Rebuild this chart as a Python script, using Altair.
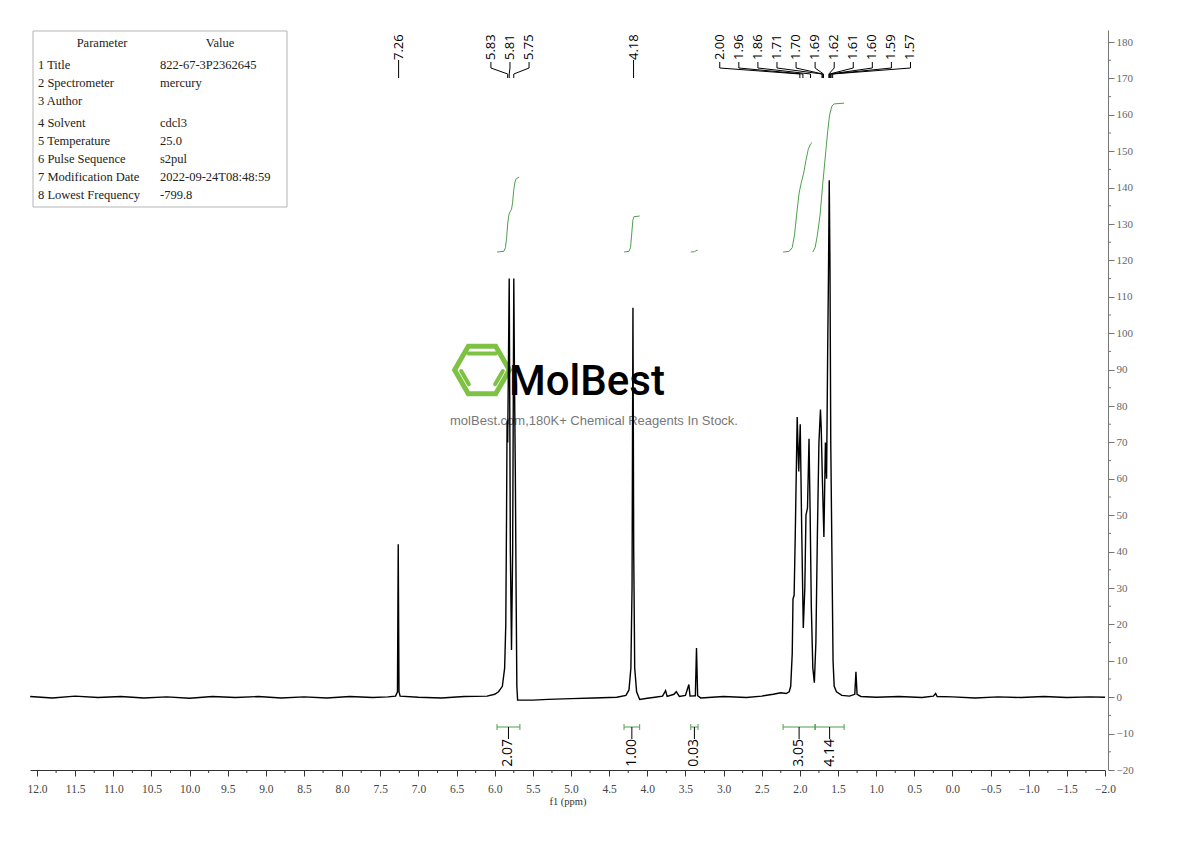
import altair as alt
import pandas as pd
import numpy as np

# ---------------- data ----------------
# spectrum trace vertices (ppm, intensity)
SPEC_PPM = [12.09, 11.80, 11.50, 11.20, 10.90, 10.60, 10.30, 10.00, 9.70, 9.40, 9.10, 8.80, 8.50, 8.20,
            7.90, 7.60, 7.40, 7.30, 7.275, 7.265, 7.255, 7.24, 7.00, 6.70, 6.40, 6.10, 6.00, 5.95, 5.90,
            5.87, 5.855, 5.845, 5.838, 5.83, 5.81, 5.795, 5.78, 5.765, 5.75, 5.74, 5.73, 5.72, 5.71, 5.70,
            5.50, 5.30, 5.00, 4.70, 4.40, 4.28, 4.24, 4.215, 4.20, 4.188, 4.178, 4.165, 4.14, 4.10, 4.00,
            3.90, 3.80, 3.76, 3.74, 3.65, 3.62, 3.58, 3.50, 3.455, 3.44, 3.37, 3.355, 3.34, 3.30, 3.00,
            2.70, 2.50, 2.35, 2.25, 2.18, 2.14, 2.12, 2.10, 2.09, 2.075, 2.06, 2.035, 2.015, 1.995, 1.975,
            1.955, 1.935, 1.92, 1.90, 1.88, 1.865, 1.85, 1.83, 1.81, 1.79, 1.77, 1.75, 1.73, 1.72, 1.705,
            1.685, 1.665, 1.65, 1.635, 1.625, 1.615, 1.605, 1.595, 1.58, 1.565, 1.55, 1.52, 1.45, 1.35,
            1.28, 1.265, 1.25, 1.20, 1.00, 0.70, 0.40, 0.25, 0.22, 0.20, 0.00, -0.30, -0.60, -0.90, -1.20,
            -1.50, -1.80, -2.00]
SPEC_INT = [0.2, -0.2, 0.3, -0.1, 0.2, -0.2, 0.1, -0.3, 0.2, -0.1, 0.2, -0.2, 0.1, -0.2,
            0.2, -0.1, 0.1, 0.3, 1.5, 42.0, 1.5, 0.3, 0.0, -0.2, 0.2, 0.3, 0.8, 1.5, 3.0,
            8.0, 20.0, 50.0, 76.0, 70.0, 115.0, 40.0, 13.0, 40.0, 115.0, 85.0, 62.0, 30.0, 3.0, -0.8,
            -0.8, -0.6, -0.4, -0.2, 0.0, 0.5, 2.0, 8.0, 30.0, 107.0, 40.0, 8.0, 1.5, -0.6, -0.3,
            0.0, 0.3, 1.8, 0.2, 0.8, 1.5, 0.2, 0.5, 3.5, 0.3, 0.4, 13.5, 0.4, -0.2, 0.2,
            -0.1, 0.3, 0.8, 1.2, 1.0, 1.5, 3.0, 12.0, 27.0, 28.0, 45.0, 77.0, 62.0, 75.0, 45.0,
            19.0, 30.0, 50.0, 52.0, 71.0, 50.0, 25.0, 8.0, 4.0, 15.0, 45.0, 70.0, 79.0, 74.0, 60.0,
            44.0, 70.0, 60.0, 96.0, 116.0, 142.0, 118.0, 70.0, 40.0, 10.0, 3.0, 1.5, 0.5, 0.3,
            0.8, 7.0, 0.8, 0.2, 0.0, 0.2, -0.1, 0.3, 1.0, 0.2, 0.1, -0.2, 0.1, -0.1, 0.2,
            -0.1, 0.1, 0.0]

# peak-picking labels
PEAKS_A = [7.26]
PEAKS_B = [5.83, 5.81, 5.75]
PEAKS_C = [4.18]
PEAKS_D = [2.00, 1.96, 1.86, 1.71, 1.70, 1.69, 1.62, 1.61, 1.60, 1.59, 1.57]

# integrals
INT_LABELS = ["2.07", "1.00", "0.03", "3.05", "4.14"]
INT_FROM = [5.97, 4.305, 3.43, 2.22, 1.80]
INT_TO = [5.67, 4.10, 3.335, 1.80, 1.42]

INT1_PPM = [5.97, 5.88, 5.86, 5.845, 5.83, 5.815, 5.80, 5.78, 5.765, 5.75, 5.735, 5.72, 5.68]
INT1_VAL = [122.3, 122.5, 123.5, 126.0, 130.0, 132.5, 133.3, 134.0, 136.0, 139.5, 141.5, 142.4, 142.9]
INT2_PPM = [4.305, 4.24, 4.22, 4.205, 4.19, 4.175, 4.10]
INT2_VAL = [122.3, 122.5, 123.5, 127.0, 131.0, 132.0, 132.2]
INT3_PPM = [3.43, 3.38, 3.36, 3.34]
INT3_VAL = [122.3, 122.4, 122.7, 122.8]
INT4_PPM = [2.22, 2.14, 2.10, 2.07, 2.04, 2.01, 1.98, 1.95, 1.92, 1.89, 1.86, 1.84]
INT4_VAL = [122.3, 122.5, 123.5, 127.0, 133.0, 138.5, 141.5, 144.0, 147.5, 150.5, 152.0, 152.4]
INT5_PPM = [1.83, 1.80, 1.77, 1.735, 1.70, 1.66, 1.635, 1.61, 1.58, 1.55, 1.42]
INT5_VAL = [122.3, 123.5, 127.0, 132.5, 141.0, 150.0, 155.5, 160.0, 162.4, 163.0, 163.2]

# parameter table
PARAM_NAMES = ["1 Title", "2 Spectrometer", "3 Author", "4 Solvent", "5 Temperature",
               "6 Pulse Sequence", "7 Modification Date", "8 Lowest Frequency"]
PARAM_VALUES = ["822-67-3P2362645", "mercury", "", "cdcl3", "25.0", "s2pul",
                "2022-09-24T08:48:59", "-799.8"]

X_TICKS = [12.0, 11.5, 11.0, 10.5, 10.0, 9.5, 9.0, 8.5, 8.0, 7.5, 7.0, 6.5, 6.0, 5.5, 5.0, 4.5,
           4.0, 3.5, 3.0, 2.5, 2.0, 1.5, 1.0, 0.5, 0.0, -0.5, -1.0, -1.5, -2.0]
Y_TICKS = list(range(-20, 190, 10))

# ---------------- layout ----------------
W, H = 1075, 740
XDOM = [12.092, -2.0]
YDOM = [-20.0, 183.3]
PAD_L, PAD_T = 22, 22
ORIGIN_X, ORIGIN_Y = 8 + PAD_L, 8 + PAD_T
GREEN = "#4f9f4f"
SERIF = "Liberation Serif"
SANS = "Open Sans"


def yv(page_y):
    """page pixel row -> y data value"""
    return YDOM[1] - (page_y - ORIGIN_Y) * (YDOM[1] - YDOM[0]) / H


xs = alt.Scale(domain=XDOM, nice=False, zero=False)
ys = alt.Scale(domain=YDOM, nice=False, zero=False)


def X(f="ppm"):
    return alt.X(f"{f}:Q", scale=xs, axis=None)


def Y(f="val"):
    return alt.Y(f"{f}:Q", scale=ys, axis=None)


# spectrum (carries the axes)
spec_df = pd.DataFrame({"ppm": SPEC_PPM, "val": SPEC_INT, "o": range(len(SPEC_PPM))})
spectrum = alt.Chart(spec_df).mark_line(color="black", strokeWidth=1.4).encode(
    x=alt.X("ppm:Q", scale=xs,
            axis=alt.Axis(orient="bottom", values=X_TICKS, format=".1f", title="f1 (ppm)", grid=False,
                          labelFont=SERIF, labelFontSize=11.5, labelColor="#444",
                          titleFont=SERIF, titleFontSize=10.5, titleFontWeight="normal",
                          titleColor="#333", tickSize=6, tickColor="#333", domainColor="#333",
                          labelPadding=7, titlePadding=2, labelFlush=False, labelOverlap=False)),
    y=alt.Y("val:Q", scale=ys,
            axis=alt.Axis(orient="right", values=Y_TICKS, format="d", title="", grid=False,
                          offset=3, labelFont=SERIF, labelFontSize=11, labelColor="#666",
                          tickSize=6, tickColor="#777", domainColor="#777", labelPadding=2,
                          labelOverlap=False)),
    order="o:Q",
)

# minor ticks
xminor = pd.DataFrame({"ppm": np.arange(11.75, -2.0, -0.5)})
xminor_rules = alt.Chart(xminor).mark_rule(color="#333", strokeWidth=1).encode(
    x=X(), y=alt.value(H), y2=alt.value(H + 3))
yminor = pd.DataFrame({"val": np.arange(-15, 180, 10)})
yminor_rules = alt.Chart(yminor).mark_rule(color="#777", strokeWidth=1).encode(
    y=Y(), x=alt.value(W + 3), x2=alt.value(W + 6))

# integral curves
int_rows = []
for cid, (pp, vv) in enumerate([(INT1_PPM, INT1_VAL), (INT2_PPM, INT2_VAL), (INT3_PPM, INT3_VAL),
                                (INT4_PPM, INT4_VAL), (INT5_PPM, INT5_VAL)]):
    for o, (p, v) in enumerate(zip(pp, vv)):
        int_rows.append({"cid": cid, "o": o, "ppm": p, "val": v})
int_curves = alt.Chart(pd.DataFrame(int_rows)).mark_line(color=GREEN, strokeWidth=1).encode(
    x=X(), y=Y(), detail="cid:N", order="o:Q")

# integral brackets
b_y = yv(727)
cap = (YDOM[1] - YDOM[0]) / H * 3
br_df = pd.DataFrame({"ppm": INT_FROM, "ppm2": INT_TO, "lab": INT_LABELS})
br_df["mid"] = (br_df["ppm"] + br_df["ppm2"]) / 2
br_df["val"] = b_y
br_df["lo"] = yv(739)
br_df["c1"] = b_y + cap
br_df["c2"] = b_y - cap
br_h = alt.Chart(br_df).mark_rule(color=GREEN, strokeWidth=1).encode(x=X(), x2="ppm2:Q", y=Y())
br_c1 = alt.Chart(br_df).mark_rule(color=GREEN, strokeWidth=1).encode(x=X(), y=Y("c1"), y2="c2:Q")
br_c2 = alt.Chart(br_df).mark_rule(color=GREEN, strokeWidth=1).encode(x=X("ppm2"), y=Y("c1"), y2="c2:Q")
br_mid = alt.Chart(br_df).mark_rule(color="black", strokeWidth=1).encode(x=X("mid"), y=Y(), y2="lo:Q")
br_txt = alt.Chart(br_df).mark_text(angle=270, align="right", baseline="middle", font=SANS,
                                    fontSize=14, color="black").encode(
    x=X("mid"), y=Y("lo"), text="lab:N")

# peak labels and connectors
SPACING = 0.25
groups = [(PEAKS_A, 7.26), (PEAKS_B, 5.80), (PEAKS_C, 4.18), (PEAKS_D, 1.80)]
lab_rows, con_rows = [], []
cid = 0
for peaks, center in groups:
    n = len(peaks)
    for i, p in enumerate(peaks):
        lx = center + ((n - 1) / 2 - i) * SPACING if n > 1 else p
        lab_rows.append({"ppm": lx, "val": yv(60), "lab": f"{p:.2f}"})
        pts = [(lx, yv(62)), (lx, yv(68)), (p, yv(74)), (p, yv(78))] if n > 1 else \
              [(p, yv(60)), (p, yv(78))]
        for o, (xx, vv) in enumerate(pts):
            con_rows.append({"cid": cid, "o": o, "ppm": xx, "val": vv})
        cid += 1
peak_txt = alt.Chart(pd.DataFrame(lab_rows)).mark_text(
    angle=270, align="left", baseline="middle", font=SANS, fontSize=13, color="black").encode(
    x=X(), y=Y(), text="lab:N")
connectors = alt.Chart(pd.DataFrame(con_rows)).mark_line(color="black", strokeWidth=1).encode(
    x=X(), y=Y(), detail="cid:N", order="o:Q")

# parameter table (rows positioned through the y scale)
row_page_y = []
yy = 65
for i in range(len(PARAM_NAMES)):
    row_page_y.append(yy)
    yy += 22 if i == 2 else 18
tab_df = pd.DataFrame({"name": PARAM_NAMES, "value": PARAM_VALUES,
                       "val": [yv(r) for r in row_page_y]})
one = pd.DataFrame({"a": [0]})
tab_box = alt.Chart(one).mark_rect(
    fill="white", stroke="#b5b5b5", strokeWidth=1).encode(
    x=alt.value(33 - ORIGIN_X), x2=alt.value(287 - ORIGIN_X),
    y=alt.value(31 - ORIGIN_Y), y2=alt.value(207 - ORIGIN_Y))
tab_names = alt.Chart(tab_df).mark_text(align="left", baseline="middle", font=SERIF,
                                        fontSize=12.5, color="#222").encode(
    x=alt.value(38 - ORIGIN_X), y=Y(), text="name:N")
tab_vals = alt.Chart(tab_df).mark_text(align="left", baseline="middle", font=SERIF,
                                       fontSize=12.5, color="#222").encode(
    x=alt.value(160 - ORIGIN_X), y=Y(), text="value:N")
head_p = alt.Chart(one).mark_text(text="Parameter", align="center", baseline="middle", font=SERIF,
                                  fontSize=12.5, color="#222").encode(
    x=alt.value(102 - ORIGIN_X), y=alt.value(43 - ORIGIN_Y))
head_v = alt.Chart(one).mark_text(text="Value", align="center", baseline="middle", font=SERIF,
                                  fontSize=12.5, color="#222").encode(
    x=alt.value(220 - ORIGIN_X), y=alt.value(43 - ORIGIN_Y))

# watermark
hexagon = alt.Chart(one).mark_point(
    shape="M-1,0L-0.5,-0.866L0.5,-0.866L1,0L0.5,0.866L-0.5,0.866Z",
    filled=False, stroke="#7dc243", strokeWidth=5, size=3000, opacity=1).encode(
    x=alt.value(482 - ORIGIN_X), y=alt.value(370 - ORIGIN_Y))
hex_inner = alt.Chart(one).mark_point(
    shape="M-0.5,-0.6L0.5,-0.6M-0.76,0.04L-0.48,0.52M0.76,0.04L0.48,0.52",
    filled=False, stroke="#7dc243", strokeWidth=4, strokeCap="round", size=3000, opacity=1).encode(
    x=alt.value(482 - ORIGIN_X), y=alt.value(370 - ORIGIN_Y))
wm_big = alt.Chart(one).mark_text(
    text="MolBest", align="left", baseline="alphabetic",
    font="Roboto", fontSize=42, fontWeight=500, color="black").encode(
    x=alt.value(509 - ORIGIN_X), y=alt.value(395 - ORIGIN_Y))
wm_small = alt.Chart(one).mark_text(
    text="molBest.com,180K+ Chemical Reagents In Stock.", align="center", baseline="middle",
    font="Liberation Sans", fontSize=13, color="#777").encode(
    x=alt.value(594 - ORIGIN_X), y=alt.value(421 - ORIGIN_Y))

chart = alt.layer(
    hexagon, hex_inner, wm_big, wm_small, spectrum,
    xminor_rules, yminor_rules, int_curves, br_h, br_c1, br_c2, br_mid, br_txt,
    connectors, peak_txt, tab_box, head_p, head_v, tab_names, tab_vals,
).resolve_axis(x="independent", y="independent").properties(
    width=W, height=H,
    padding={"left": PAD_L, "top": PAD_T, "right": 60, "bottom": 50},
    autosize=alt.AutoSizeParams(type="none"),
).configure_view(stroke=None).configure_axis(grid=False)

chart.save("out.html", embed_options={"renderer": "svg", "actions": False})
